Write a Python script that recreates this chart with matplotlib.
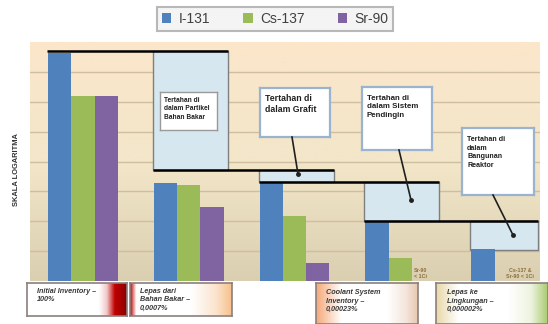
import numpy as np
import matplotlib
matplotlib.use("Agg")
import matplotlib.pyplot as plt
from matplotlib.patches import Rectangle
from matplotlib.colors import LinearSegmentedColormap

plt.rcParams['font.family'] = ['Liberation Sans', 'DejaVu Sans']

# ---------------- data ----------------
series_names = ["I-131", "Cs-137", "Sr-90"]
series_colors = ["#4F81BD", "#9BBB59", "#8064A2"]
i131 = [4.3e7, 1.9e3, 2.0e3, 93, 11]
cs137 = [1.5e6, 1.6e3, 150, 5, np.nan]
sr90 = [1.5e6, 300, 3, np.nan, np.nan]
stair_levels = [4.9e7, 5.1e3, 2.05e3, 1.02e2, 11]   # retention boundaries
retention_labels = ["Tertahan di\ndalam Partikel\nBahan Bakar",
                    "Tertahan di\ndalam Grafit",
                    "Tertahan di\ndalam Sistem\nPendingin",
                    "Tertahan di\ndalam\nBangunan\nReaktor"]
bottom_labels = ["Initial Inventory –\n100%",
                 "Lepas dari\nBahan Bakar –\n0,0007%",
                 "Coolant System\nInventory –\n0,00023%",
                 "Lepas ke\nLingkungan –\n0,000002%"]
note_labels = ["Sr-90\n< 1Ci", "Cs-137 &\nSr-90 < 1Ci"]
ylabel = "SKALA LOGARITMA"

W, H = 548, 324
fig = plt.figure(figsize=(W / 100, H / 100), dpi=100)
fig.patch.set_facecolor("white")


def fx(x):
    return x / W


def fy(y):
    return 1 - y / H


def frect(x0, y0, x1, y1):
    return [fx(x0), fy(y1), fx(x1) - fx(x0), fy(y0) - fy(y1)]


ax = fig.add_axes(frect(30, 42, 540, 281))
ax.set_yscale("log")
ax.set_ylim(1, 1e8)
ax.set_xlim(-0.5, 4.32)
for s in ax.spines.values():
    s.set_visible(False)
ax.set_xticks([])
ax.set_yticks([])
ax.yaxis.set_minor_locator(matplotlib.ticker.NullLocator())

# background gradient
grad = np.linspace(0, 1, 256).reshape(-1, 1)
bg = LinearSegmentedColormap.from_list("bg", ["#FCE6CB", "#F3E6C9", "#DACFB0"])
ax.imshow(grad, extent=[0, 1, 0, 1], transform=ax.transAxes, cmap=bg,
          aspect="auto", zorder=0)
for k in range(1, 8):
    ax.axhline(10 ** k, color="#CDBF9F", lw=1.0, zorder=1)

# bars
w = 0.22
x = np.arange(len(i131))
for j, (vals, c) in enumerate(zip([i131, cs137, sr90], series_colors)):
    v = np.array(vals, dtype=float)
    ax.bar(x + (j - 1) * w, np.nan_to_num(v, nan=0), width=w, bottom=1,
           color=c, zorder=3, label=series_names[j], align="center")

# staircase retention boxes
for i in range(1, 5):
    x0 = i - 0.34
    x1 = min(i + 0.37, 4.30)
    ax.add_patch(Rectangle((x0, stair_levels[i]), x1 - x0,
                           stair_levels[i - 1] - stair_levels[i],
                           facecolor="#D6E7F0", edgecolor="#7F7F7F",
                           lw=1.0, zorder=2.5))
for k in range(4):
    x0 = k - 0.34
    x1 = min(k + 1 + 0.37, 4.30)
    ax.plot([x0, x1], [stair_levels[k]] * 2, color="black", lw=1.8,
            zorder=4, solid_capstyle="butt")

# notes for missing bars
ax.text(3.19, 1.8, note_labels[0], fontsize=3.8, color="#8B6E3A",
        ha="center", va="center", fontweight="bold", zorder=5)
ax.text(4.13, 1.8, note_labels[1], fontsize=3.8, color="#8B6E3A",
        ha="center", va="center", fontweight="bold", zorder=5)

# callout boxes (figure pixels)
callouts = [
    (160, 92, 217, 130, 4.8, None),
    (260, 88, 330, 137, 6.3, ((292, 137), (298, 174))),
    (362, 87, 432, 150, 5.7, ((399, 150), (411, 200))),
    (462, 128, 534, 195, 5.1, ((493, 195), (513, 235))),
]
for (x0, y0, x1, y1, fs, arr), lab in zip(callouts, retention_labels):
    cax = fig.add_axes(frect(x0, y0, x1, y1))
    cax.set_xlim(0, 1)
    cax.set_ylim(0, 1)
    cax.set_xticks([])
    cax.set_yticks([])
    cax.set_facecolor("white")
    for s in cax.spines.values():
        s.set_color("#9AB3D0" if arr else "#9A9A9A")
        s.set_linewidth(1.6 if arr else 1.0)
    cax.text(0.07, 0.88, lab, fontsize=fs, fontweight="bold",
             color="#202020", ha="left", va="top", linespacing=1.3,
             transform=cax.transAxes)
    if arr:
        (ax0, ay0), (ax1, ay1) = arr
        fig.add_artist(matplotlib.lines.Line2D([fx(ax0), fx(ax1)],
                                               [fy(ay0), fy(ay1)],
                                               color="#202020", lw=1.2,
                                               transform=fig.transFigure))
        fig.add_artist(matplotlib.lines.Line2D([fx(ax1)], [fy(ay1)],
                                               marker="o", ms=2.5,
                                               color="#202020",
                                               transform=fig.transFigure))

# bottom label boxes
bottom_boxes = [
    (27, 283, 127, 316, [(0, "#FFFFFF"), (0.72, "#FFFFFF"), (0.8, "#F2C8C8"),
                         (0.88, "#C00000"), (1, "#8B0000")]),
    (130, 283, 232, 316, [(0, "#C00000"), (0.06, "#FFFFFF"), (0.6, "#FFFFFF"),
                          (0.85, "#FBE3CC"), (1, "#F7C08A")]),
    (316, 283, 418, 324, [(0, "#F5A878"), (0.25, "#FFFFFF"), (0.7, "#FFFFFF"),
                          (0.88, "#F4E6DC"), (1, "#E8C8B0")]),
    (436, 283, 548, 324, [(0, "#E8D8A8"), (0.2, "#FFFFFF"), (0.65, "#FFFFFF"),
                          (0.85, "#EEF3E0"), (1, "#A8CC70")]),
]
for (x0, y0, x1, y1, cols), lab in zip(bottom_boxes, bottom_labels):
    bax = fig.add_axes(frect(x0, y0, x1, y1))
    cm = LinearSegmentedColormap.from_list("g", cols)
    bax.imshow(np.linspace(0, 1, 256).reshape(1, -1), extent=[0, 1, 0, 1],
               cmap=cm, aspect="auto")
    bax.set_xlim(0, 1)
    bax.set_ylim(0, 1)
    bax.set_xticks([])
    bax.set_yticks([])
    for s in bax.spines.values():
        s.set_color("#8C7F7F")
        s.set_linewidth(1.2)
    bax.text(0.1, 0.85, lab, fontsize=5.2, fontweight="bold", style="italic",
             color="#3A3A3A", ha="left", va="top", linespacing=1.3,
             transform=bax.transAxes)

# y label
fig.text(fx(17), fy(170), ylabel, rotation=90, fontsize=5.4,
         fontweight="bold", color="#333333", ha="center", va="center")

# legend
handles, labels = ax.get_legend_handles_labels()
leg = fig.legend(handles, labels, loc="center", ncol=3,
                 bbox_to_anchor=(fx(275), fy(19)), fontsize=10,
                 frameon=True, handlelength=0.7, handleheight=0.7,
                 columnspacing=2.4, handletextpad=0.5, borderpad=0.35,
                 fancybox=False)
leg.get_frame().set_facecolor("#F2F2F2")
leg.get_frame().set_edgecolor("#A8A8A8")
leg.get_frame().set_linewidth(1.5)
for t in leg.get_texts():
    t.set_color("#404040")

fig.savefig("out.png", dpi=100)
